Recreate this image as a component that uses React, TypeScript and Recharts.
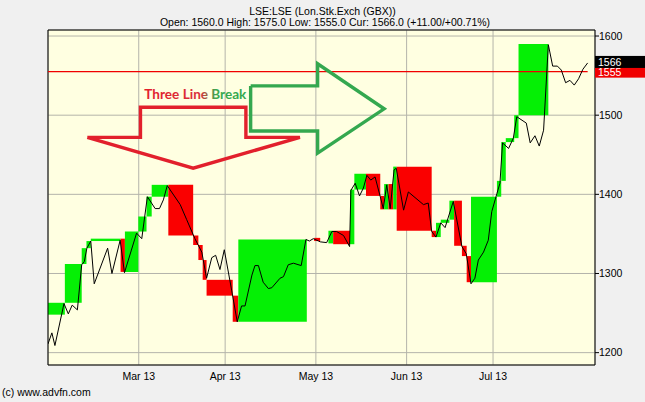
import {
  CartesianGrid,
  ComposedChart,
  Line,
  ReferenceArea,
  ReferenceDot,
  XAxis,
  YAxis,
} from "recharts";

const FONT = "'Liberation Sans', Arial, sans-serif";

// x is a trading-day index counted from the left edge of the chart
const X_MIN = 0;
const X_MAX = 126.6;
const Y_MIN = 1184.4;
const Y_MAX = 1607.6;

const xTicks = [21, 41, 62, 83, 103];
const xLabels = ["Mar 13", "Apr 13", "May 13", "Jun 13", "Jul 13"];
const yTicks = [1200, 1300, 1400, 1500, 1600];
const yMinorTicks = [1250, 1350, 1450, 1550];

const lineT = [
  0, 0.9, 1.6, 3.7, 4.7, 5.6, 6.8, 7.8, 8.4, 9.0, 9.9, 10.7, 13.8, 14.8, 16.7, 17.7, 20.5, 21.7,
  23.0, 24.8, 25.8, 26.7, 27.6, 30.6, 32.1, 34.0, 35.6, 36.7, 37.9, 38.8, 39.8, 40.8, 42.5, 43.8,
  44.8, 45.6, 47.2, 47.9, 48.7, 49.8, 51.0, 51.8, 53.7, 54.5, 55.6, 56.8, 58.6, 59.7, 60.5, 61.4,
  62.6, 63.0, 64.5, 65.7, 66.8, 68.4, 69.8, 70.1, 71.1, 72.1, 73.0, 73.8, 74.7, 75.7, 76.9, 77.6,
  78.4, 79.2, 80.1, 80.6, 82.3, 83.4, 86.9, 88.0, 88.8, 89.8, 90.9, 91.9, 93.8, 95.8, 96.8, 97.9,
  98.8, 99.6, 100.8, 101.9, 102.7, 103.9, 104.6, 105.2, 106.6, 107.7, 108.5, 110.7, 111.6, 112.7,
  113.7, 114.7, 115.8, 116.8, 117.9, 118.8, 119.8, 120.8, 121.8, 122.8, 123.8, 124.9,
];
const linePrice = [
  1211, 1225, 1209, 1262, 1249, 1260, 1254, 1311, 1315, 1332, 1341, 1287, 1332, 1300, 1342, 1301,
  1351, 1344, 1397, 1382, 1382, 1393, 1411, 1387, 1368, 1344, 1327, 1294, 1320, 1323, 1305, 1330,
  1279, 1239, 1259, 1259, 1298, 1310, 1310, 1289, 1281, 1282, 1294, 1296, 1311, 1313, 1310, 1343,
  1341, 1344, 1341, 1340, 1339, 1353, 1353, 1348, 1334, 1405, 1414, 1398, 1408, 1424, 1418, 1422,
  1397, 1382, 1412, 1382, 1431, 1433, 1380, 1403, 1387, 1389, 1353, 1346, 1364, 1358, 1391, 1334,
  1325, 1287, 1294, 1317, 1327, 1342, 1378, 1401, 1414, 1465, 1458, 1471, 1498, 1490, 1465, 1474,
  1461, 1481, 1589, 1562, 1562, 1557, 1541, 1544, 1538, 1546, 1558, 1566,
];

// three line break bricks
const boxT0 = [
  0, 3.9, 7.8, 8.9, 9.9, 16.8, 17.8, 20.9, 22.8, 24.0, 27.85, 33.6, 34.8, 35.8, 36.7, 42.75, 44.05,
  61.6, 64.9, 66.0, 69.9, 70.9, 73.6, 76.9, 77.8, 78.8, 79.9, 80.7, 88.8, 89.8, 90.9, 92.9, 94.0,
  95.8, 96.9, 97.9, 103.9, 104.9, 105.95, 107.9, 108.9,
];
const boxT1 = [
  3.9, 7.8, 8.9, 9.9, 16.8, 17.8, 20.9, 22.8, 24.0, 27.85, 33.6, 34.8, 35.8, 36.7, 42.75, 44.05,
  59.9, 63.0, 66.0, 69.9, 70.9, 73.6, 76.9, 77.8, 78.8, 79.9, 80.7, 88.8, 89.8, 90.9, 92.9, 94.0,
  95.8, 96.9, 97.9, 103.9, 104.9, 105.95, 107.9, 108.9, 115.8,
];
const boxLo = [
  1248, 1263, 1312, 1332, 1341, 1302, 1302, 1353, 1372, 1397, 1348, 1336, 1317, 1292, 1272, 1239,
  1239, 1341, 1338, 1337, 1337, 1406, 1398, 1381, 1381, 1381, 1381, 1354, 1346, 1346, 1364, 1368,
  1335, 1322, 1289, 1289, 1397, 1417, 1466, 1471, 1500,
];
const boxHi = [
  1263, 1312, 1332, 1341, 1344, 1344, 1353, 1372, 1397, 1412, 1412, 1348, 1336, 1317, 1292, 1272,
  1343, 1345, 1354, 1354, 1406, 1426, 1426, 1398, 1413, 1413, 1435, 1435, 1354, 1364, 1368, 1392,
  1392, 1335, 1322, 1397, 1417, 1466, 1471, 1500, 1590,
];
const boxUp = [
  true, true, true, true, true, false, true, true, true, true, false, false, false, false, false,
  false, true, false, true, false, true, true, false, false, true, false, true, false, false, true,
  true, true, false, false, false, true, true, true, true, true, true,
];

// annotation arrows (closed outlines)
const downArrowT = [9.1, 21.4, 21.4, 45.8, 45.8, 58.3, 33.6, 9.1];
const downArrowP = [1472, 1472, 1510, 1510, 1472, 1472, 1433, 1472];
const rightArrowT = [46.9, 62.4, 62.4, 77.8, 62.4, 62.4, 46.9, 46.9];
const rightArrowP = [1537, 1537, 1565, 1508, 1452, 1480, 1480, 1537];

const lastPrice = 1566;
const levelPrice = 1555;

const GREEN = "#05f005";
const RED = "#fa0000";

function PriceTag({ cx, cy, value, bg }: { cx: number; cy: number; value: number; bg: string }) {
  return (
    <g>
      <rect x={cx} y={cy - 6} width={50} height={12} fill={bg} />
      <text x={cx + 3} y={cy + 4} fill="#fff" fontSize={10.5} fontFamily={FONT}>
        {value}
      </text>
    </g>
  );
}

export default function App() {
  const lineData = lineT.map((t, i) => ({ t, p: linePrice[i] }));
  const downArrow = downArrowT.map((t, i) => ({ t, p: downArrowP[i] }));
  const rightArrow = rightArrowT.map((t, i) => ({ t, p: rightArrowP[i] }));
  const levelLine = [
    { t: X_MIN, p: levelPrice },
    { t: lineT[lineT.length - 1], p: levelPrice },
  ];

  return (
    <div
      style={{
        position: "absolute",
        left: 0,
        top: 0,
        width: 645,
        height: 402,
        background: "#f0f0f0",
        fontFamily: FONT,
        color: "#000",
      }}
    >
      <ComposedChart
        width={645}
        height={402}
        data={lineData}
        margin={{ top: 30, right: 0, bottom: 0, left: 48 }}
      >
        <CartesianGrid fill="#ffffe1" stroke="#b4b4aa" />
        <XAxis
          type="number"
          dataKey="t"
          domain={[X_MIN, X_MAX]}
          allowDataOverflow
          ticks={xTicks}
          interval={0}
          tickFormatter={(v: number) => xLabels[xTicks.indexOf(v)] ?? ""}
          tickLine={false}
          axisLine={false}
          height={37}
          tick={{ fontSize: 10.5, fill: "#000", fontFamily: FONT }}
        />
        <YAxis
          orientation="right"
          type="number"
          domain={[Y_MIN, Y_MAX]}
          allowDataOverflow
          ticks={yTicks}
          interval={0}
          width={50}
          tickSize={4}
          tickMargin={0}
          axisLine={false}
          tickLine={{ stroke: "#000" }}
          tick={{ fontSize: 10.5, fill: "#000", fontFamily: FONT }}
        />
        <YAxis
          yAxisId="minor"
          orientation="right"
          type="number"
          domain={[Y_MIN, Y_MAX]}
          allowDataOverflow
          ticks={yMinorTicks}
          interval={0}
          width={0}
          tickSize={3}
          axisLine={false}
          tickLine={{ stroke: "#000" }}
          tickFormatter={() => ""}
        />
        {boxT0.map((t0, i) => (
          <ReferenceArea
            key={i}
            x1={t0}
            x2={boxT1[i]}
            y1={boxLo[i]}
            y2={boxHi[i]}
            fill={boxUp[i] ? GREEN : RED}
            fillOpacity={1}
            stroke="none"
          />
        ))}
        <ReferenceArea
          x1={X_MIN}
          x2={X_MAX}
          y1={Y_MIN}
          y2={Y_MAX}
          fill="none"
          stroke="#000"
          strokeWidth={1}
        />
        <Line
          data={levelLine}
          type="linear"
          dataKey="p"
          stroke="#f00000"
          strokeWidth={1.1}
          dot={false}
          isAnimationActive={false}
        />
        <Line
          type="linear"
          dataKey="p"
          stroke="#000"
          strokeWidth={1}
          dot={false}
          isAnimationActive={false}
        />
        <Line
          data={downArrow}
          type="linear"
          dataKey="p"
          stroke="#e2202c"
          strokeWidth={3.4}
          strokeLinejoin="miter"
          dot={false}
          isAnimationActive={false}
        />
        <Line
          data={rightArrow}
          type="linear"
          dataKey="p"
          stroke="#34a84f"
          strokeWidth={3.4}
          strokeLinejoin="miter"
          dot={false}
          isAnimationActive={false}
        />
        <ReferenceDot
          x={22.3}
          y={1521}
          r={0}
          ifOverflow="visible"
          shape={(p: any) => (
            <g>
              <defs>
                <linearGradient id="tlbGrad" x1="0" x2="1" y1="0" y2="0">
                  <stop offset="0" stopColor="#e2202c" />
                  <stop offset="0.55" stopColor="#d8303a" />
                  <stop offset="0.7" stopColor="#3aa84f" />
                  <stop offset="1" stopColor="#34a84f" />
                </linearGradient>
              </defs>
              <text
                x={p.cx}
                y={p.cy}
                fill="url(#tlbGrad)"
                fontFamily="Lato, 'Open Sans', sans-serif"
                fontWeight="bold"
                fontSize={12.5}
                textLength={102}
                lengthAdjust="spacingAndGlyphs"
              >
                Three Line Break
              </text>
            </g>
          )}
        />
        <ReferenceDot
          x={X_MAX}
          y={levelPrice}
          r={0}
          ifOverflow="visible"
          shape={(p: any) => <PriceTag cx={p.cx} cy={p.cy} value={levelPrice} bg="#f00000" />}
        />
        <ReferenceDot
          x={X_MAX}
          y={lastPrice}
          r={0}
          ifOverflow="visible"
          shape={(p: any) => <PriceTag cx={p.cx} cy={p.cy - 1} value={lastPrice} bg="#000" />}
        />
      </ComposedChart>
      <div
        style={{
          position: "absolute",
          left: 0,
          top: 5,
          width: 645,
          textAlign: "center",
          fontSize: 10.5,
          lineHeight: "12px",
          whiteSpace: "nowrap",
        }}
      >
        LSE:LSE (Lon.Stk.Exch (GBX))
      </div>
      <div
        style={{
          position: "absolute",
          left: 0,
          top: 15.5,
          width: 650,
          textAlign: "center",
          fontSize: 10.5,
          lineHeight: "12px",
          whiteSpace: "nowrap",
        }}
      >
        Open: 1560.0 High: 1575.0 Low: 1555.0 Cur: 1566.0 (+11.00/+00.71%)
      </div>
      <div
        style={{
          position: "absolute",
          left: 2,
          top: 386,
          fontSize: 10.5,
          lineHeight: "12px",
          whiteSpace: "nowrap",
        }}
      >
        (c) www.advfn.com
      </div>
    </div>
  );
}
